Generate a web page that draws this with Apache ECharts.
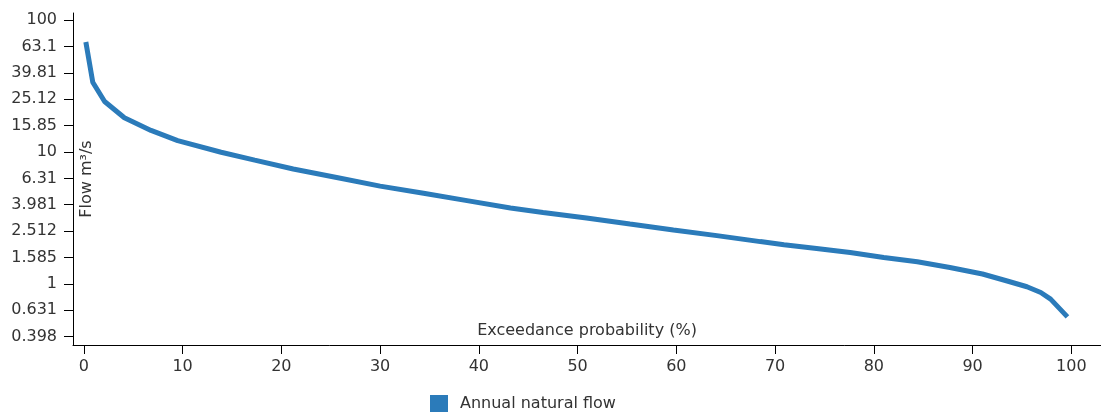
<!DOCTYPE html>
<html>
<head>
<meta charset="utf-8">
<script src="https://cdn.jsdelivr.net/npm/echarts@6/dist/echarts.min.js"></script>
<style>
  html, body { margin: 0; padding: 0; background: #fff; }
  #main { width: 1101px; height: 412px; }
</style>
</head>
<body>
<div id="main"></div>
<script>
// exceedance probability (%) and flow (m3/s)
const exceedance = [0.2, 0.9, 2.1, 4.1, 6.8, 9.5, 13.9, 17.3, 21.2, 25.6, 30.0, 34.4, 38.8, 43.2, 46.5, 50.9,
    55.3, 59.7, 64.1, 68.5, 70.9, 74.2, 77.6, 81.0, 84.4, 87.7, 91.0, 93.5, 95.5, 96.9, 97.9, 99.6];
const flow = [68.4, 33.9, 24.2, 18.2, 14.6, 12.2, 9.97, 8.69, 7.43, 6.40, 5.51, 4.86, 4.28, 3.76, 3.48, 3.16,
    2.84, 2.56, 2.32, 2.09, 1.98, 1.855, 1.73, 1.585, 1.47, 1.33, 1.186, 1.05, 0.949, 0.859, 0.765, 0.561];
const xTicks = [0, 10, 20, 30, 40, 50, 60, 70, 80, 90, 100];
const yTicks = [0.398, 0.631, 1, 1.585, 2.512, 3.981, 6.31, 10, 15.85, 25.12, 39.81, 63.1, 100];
const seriesName = 'Annual natural flow';

const font = 'DejaVu Sans';
const textColor = '#333';

let chart = echarts.init(document.getElementById('main'), null, { renderer: 'canvas' });
chart.setOption({
    animation: false,
    textStyle: { fontFamily: font },
    grid: { left: 73, right: 0, top: 13, bottom: 67, outerBoundsMode: 'none' },
    legend: {
        data: [seriesName],
        left: 430,
        top: 395,
        padding: 0,
        icon: 'rect',
        itemWidth: 18,
        itemHeight: 18,
        textStyle: { fontFamily: font, fontSize: 16, color: textColor, padding: [0, 0, 0, 7] }
    },
    xAxis: {
        type: 'value',
        min: -1.1,
        max: 103,
        name: 'Exceedance probability (%)',
        nameLocation: 'middle',
        nameGap: -22,
        nameMoveOverlap: false,
        nameTextStyle: { fontFamily: font, fontSize: 16, color: textColor },
        axisLine: { onZero: false, lineStyle: { color: '#000', width: 1 } },
        axisTick: { length: 9, customValues: xTicks, lineStyle: { color: '#000' } },
        axisLabel: { customValues: xTicks, margin: 14, fontSize: 16, color: textColor, fontFamily: font },
        splitLine: { show: false }
    },
    yAxis: {
        type: 'log',
        logBase: 10,
        min: 0.343,
        max: 113.6,
        name: 'Flow m³/s',
        nameLocation: 'middle',
        nameRotate: 90,
        nameGap: -22,
        nameMoveOverlap: false,
        nameTextStyle: { fontFamily: font, fontSize: 16, color: textColor },
        axisLine: { show: true, onZero: false, lineStyle: { color: '#000', width: 1 } },
        axisTick: { show: true, length: 9, customValues: yTicks, lineStyle: { color: '#000' } },
        axisLabel: {
            customValues: yTicks,
            margin: 16,
            fontSize: 16,
            color: textColor,
            fontFamily: font,
            formatter: v => String(+Number(v).toPrecision(4))
        },
        splitLine: { show: false },
        minorSplitLine: { show: false }
    },
    series: [{
        name: seriesName,
        type: 'line',
        data: exceedance.map((x, i) => [x, flow[i]]),
        showSymbol: false,
        symbol: 'none',
        color: '#2b7bba',
        lineStyle: { width: 5, color: '#2b7bba' }
    }]
});
</script>
</body>
</html>
